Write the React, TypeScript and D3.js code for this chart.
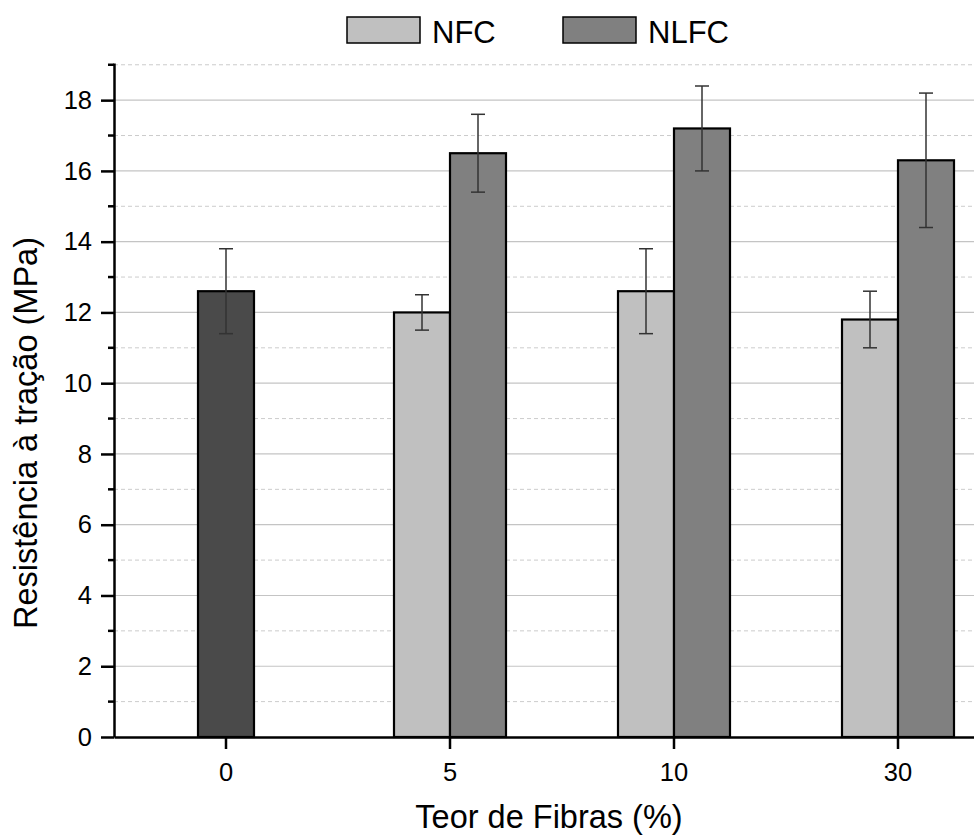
import { useEffect, useRef } from "react"
import * as d3 from "d3"

const categories = ["0", "5", "10", "30"]
const controlValue = 12.6
const controlErr = 1.2
const nfcValues = [null, 12.0, 12.6, 11.8]
const nfcErrors = [null, 0.5, 1.2, 0.8]
const nlfcValues = [null, 16.5, 17.2, 16.3]
const nlfcErrors = [null, 1.1, 1.2, 1.9]
const majorTicks = [0, 2, 4, 6, 8, 10, 12, 14, 16, 18]
const minorTicks = [1, 3, 5, 7, 9, 11, 13, 15, 17, 19]

const W = 974
const H = 836
const FONT = "'Liberation Sans', Arial, sans-serif"
const colors = { control: "#4a4a4a", NFC: "#c0c0c0", NLFC: "#808080" }

const App = () => {
  const ref = useRef<SVGSVGElement>(null)

  useEffect(() => {
    document.body.style.margin = "0"
    const svg = d3.select(ref.current)
    svg.selectAll("*").remove()

    const x = d3.scaleBand().domain(categories).range([114, 1010]).padding(0)
    const y = d3.scaleLinear().domain([0, 19.05]).range([737, 63])
    const barW = 56
    const inner = d3.scaleBand().domain(["NFC", "NLFC"]).range([-barW, barW])

    // grid
    const grid = svg.append("g")
    grid.selectAll("line.major").data(majorTicks.filter(d => d > 0)).enter().append("line")
      .attr("x1", 114).attr("x2", W)
      .attr("y1", d => y(d)).attr("y2", d => y(d))
      .attr("stroke", "#c4c4c4").attr("stroke-width", 1.2)
    grid.selectAll("line.minor").data(minorTicks).enter().append("line")
      .attr("x1", 114).attr("x2", W)
      .attr("y1", d => y(d)).attr("y2", d => y(d))
      .attr("stroke", "#cccccc").attr("stroke-width", 1)
      .attr("stroke-dasharray", "4,3")

    // bars
    type Bar = { cat: string; key: string; v: number; e: number }
    const bars: Bar[] = [{ cat: "0", key: "control", v: controlValue, e: controlErr }]
    categories.forEach((c, i) => {
      if (nfcValues[i] != null) bars.push({ cat: c, key: "NFC", v: nfcValues[i] as number, e: nfcErrors[i] as number })
      if (nlfcValues[i] != null) bars.push({ cat: c, key: "NLFC", v: nlfcValues[i] as number, e: nlfcErrors[i] as number })
    })
    const cx = (b: Bar) => (x(b.cat) as number) + x.bandwidth() / 2
    const left = (b: Bar) => b.key === "control" ? cx(b) - barW / 2 : cx(b) + (inner(b.key) as number)
    const mid = (b: Bar) => left(b) + barW / 2

    svg.append("g").selectAll("rect").data(bars).enter().append("rect")
      .attr("x", left).attr("width", barW)
      .attr("y", d => y(d.v)).attr("height", d => y(0) - y(d.v))
      .attr("fill", d => (colors as any)[d.key])
      .attr("stroke", "#000").attr("stroke-width", 2.2)

    const err = svg.append("g").attr("stroke", "#333").attr("stroke-width", 1.5)
    bars.forEach(b => {
      err.append("line").attr("x1", mid(b)).attr("x2", mid(b)).attr("y1", y(b.v + b.e)).attr("y2", y(b.v - b.e))
      err.append("line").attr("x1", mid(b) - 7).attr("x2", mid(b) + 7).attr("y1", y(b.v + b.e)).attr("y2", y(b.v + b.e))
      err.append("line").attr("x1", mid(b) - 7).attr("x2", mid(b) + 7).attr("y1", y(b.v - b.e)).attr("y2", y(b.v - b.e))
    })

    // axes
    const yAxis = svg.append("g").attr("transform", "translate(114,0)")
      .call(d3.axisLeft(y).tickValues(majorTicks).tickSize(13).tickSizeOuter(0).tickPadding(9))
    yAxis.selectAll("text").attr("font-size", 25.5).attr("font-family", FONT).attr("fill", "#000")
    yAxis.selectAll(".tick line, .domain").attr("stroke", "#000").attr("stroke-width", 2.5)
    yAxis.selectAll("line.minor").data(minorTicks).enter().append("line")
      .attr("class", "minor").attr("x1", -6).attr("x2", 0)
      .attr("y1", d => y(d)).attr("y2", d => y(d))
      .attr("stroke", "#000").attr("stroke-width", 2.5)

    const xAxis = svg.append("g").attr("transform", "translate(0,737)")
      .call(d3.axisBottom(x).tickSize(12).tickSizeOuter(0).tickPadding(14))
    xAxis.selectAll("text").attr("font-size", 25.5).attr("font-family", FONT).attr("fill", "#000")
    xAxis.selectAll(".tick line, .domain").attr("stroke", "#000").attr("stroke-width", 2.5)

    // titles
    svg.append("text").attr("x", 549).attr("y", 828).attr("text-anchor", "middle")
      .attr("font-size", 32.5).attr("font-family", FONT).text("Teor de Fibras (%)")
    svg.append("text").attr("transform", "translate(37,433) rotate(-90)").attr("text-anchor", "middle")
      .attr("font-size", 32.5).attr("font-family", FONT).text("Resistência à tração (MPa)")

    // legend
    const legend = [{ key: "NFC", x: 347 }, { key: "NLFC", x: 563 }]
    const lg = svg.append("g").selectAll("g").data(legend).enter().append("g")
      .attr("transform", d => `translate(${d.x},17)`)
    lg.append("rect").attr("width", 73).attr("height", 26)
      .attr("fill", d => (colors as any)[d.key]).attr("stroke", "#000").attr("stroke-width", 1.5)
    lg.append("text").attr("x", 85).attr("y", 26).attr("font-size", 31)
      .attr("font-family", FONT).text(d => d.key)
  }, [])

  return (
    <svg ref={ref} width={W} height={H} style={{ display: "block", background: "#fff" }} />
  )
}

export default App
